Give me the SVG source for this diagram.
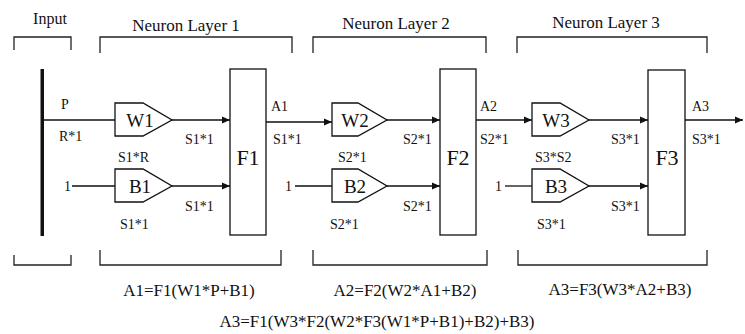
<svg xmlns="http://www.w3.org/2000/svg" width="745" height="334" viewBox="0 0 745 334">
<style>
text{font-family:"Liberation Serif","DejaVu Serif",serif;fill:#111}
.lbl{font-size:14px}
.ttl{font-size:17px;text-anchor:middle}
.eq{font-size:17px;text-anchor:middle}
.fn{font-size:22px;text-anchor:middle}
.nm{font-size:19px;text-anchor:middle}
.blk{fill:#fff;stroke:#111;stroke-width:1.3}
.ln{fill:none;stroke:#111;stroke-width:1.3}
.br{fill:none;stroke:#222;stroke-width:1.3}
</style>
<defs>
<marker id="ah" markerWidth="9" markerHeight="8" refX="8" refY="4" orient="auto" markerUnits="userSpaceOnUse">
<path d="M0,0.5 L8,4 L0,7.5 z" fill="#111"/>
</marker>
</defs>
<rect width="745" height="334" fill="#fff"/>
<g id="brackets">
<path class="br" d="M14,50 V37 H71 V50"/>
<path class="br" d="M100,53 V37 H292 V53"/>
<path class="br" d="M313,53 V37 H486 V53"/>
<path class="br" d="M517,53 V37 H707 V53"/>
<path class="br" d="M14,255 V265 H71 V255"/>
<path class="br" d="M100,250 V265 H281 V250"/>
<path class="br" d="M313,250 V265 H487 V250"/>
<path class="br" d="M518,250 V265 H707 V250"/>
</g>
<g id="titles">
<text class="ttl" style="font-size:16px" x="50" y="24">Input</text>
<text class="ttl" x="186" y="31">Neuron  Layer 1</text>
<text class="ttl" x="396" y="29">Neuron  Layer 2</text>
<text class="ttl" x="606" y="28">Neuron  Layer 3</text>
</g>
<g id="connectors">
<path class="ln" d="M43,120 H115"/>
<path class="ln" d="M172,120 H230" marker-end="url(#ah)"/>
<path class="ln" d="M72,186 H115"/>
<path class="ln" d="M172,186 H230" marker-end="url(#ah)"/>
<path class="ln" d="M266,122 H332" marker-end="url(#ah)"/>
<path class="ln" d="M387,120 H440" marker-end="url(#ah)"/>
<path class="ln" d="M295,186 H332"/>
<path class="ln" d="M387,186 H440" marker-end="url(#ah)"/>
<path class="ln" d="M476,120 H532" marker-end="url(#ah)"/>
<path class="ln" d="M589,120 H648" marker-end="url(#ah)"/>
<path class="ln" d="M505,186 H532"/>
<path class="ln" d="M589,186 H648" marker-end="url(#ah)"/>
<path class="ln" d="M685,120 H743" marker-end="url(#ah)"/>
</g>
<g id="input">
<rect x="40.5" y="69" width="3.5" height="167" fill="#111"/>
<text class="lbl" x="61" y="109">P</text>
<text class="lbl" x="59" y="141">R*1</text>
</g>
<g id="W1">
<path class="blk" d="M115,103 H143 L172,120 L143,136 H115 Z"/>
<text class="nm" x="140" y="127">W1</text>
<text class="lbl" x="118" y="162">S1*R</text>
<text class="lbl" x="185" y="144">S1*1</text>
</g>
<g id="B1">
<path class="blk" d="M115,169 H143 L172,186 L143,202 H115 Z"/>
<text class="nm" x="140" y="193">B1</text>
<text class="lbl" x="64" y="191">1</text>
<text class="lbl" x="120" y="229">S1*1</text>
<text class="lbl" x="185" y="211">S1*1</text>
</g>
<g id="F1">
<rect class="blk" x="230" y="69" width="36" height="166"/>
<text class="fn" x="248" y="165">F1</text>
<text class="lbl" x="271" y="111">A1</text>
<text class="lbl" x="273" y="144">S1*1</text>
</g>
<g id="W2">
<path class="blk" d="M332,103 H358 L387,120 L358,136 H332 Z"/>
<text class="nm" x="355" y="127">W2</text>
<text class="lbl" x="338" y="162">S2*1</text>
<text class="lbl" x="403" y="144">S2*1</text>
</g>
<g id="B2">
<path class="blk" d="M332,169 H358 L387,186 L358,202 H332 Z"/>
<text class="nm" x="355" y="193">B2</text>
<text class="lbl" x="285" y="191">1</text>
<text class="lbl" x="330" y="229">S2*1</text>
<text class="lbl" x="403" y="211">S2*1</text>
</g>
<g id="F2">
<rect class="blk" x="440" y="69" width="36" height="166"/>
<text class="fn" x="458" y="165">F2</text>
<text class="lbl" x="480" y="111">A2</text>
<text class="lbl" x="480" y="144">S2*1</text>
</g>
<g id="W3">
<path class="blk" d="M532,103 H560 L589,120 L560,136 H532 Z"/>
<text class="nm" x="556" y="127">W3</text>
<text class="lbl" x="535" y="162">S3*S2</text>
<text class="lbl" x="611" y="144">S3*1</text>
</g>
<g id="B3">
<path class="blk" d="M532,169 H560 L589,186 L560,202 H532 Z"/>
<text class="nm" x="556" y="193">B3</text>
<text class="lbl" x="495" y="191">1</text>
<text class="lbl" x="537" y="229">S3*1</text>
<text class="lbl" x="611" y="211">S3*1</text>
</g>
<g id="F3">
<rect class="blk" x="648" y="70" width="37" height="165"/>
<text class="fn" x="667" y="165">F3</text>
<text class="lbl" x="692" y="111">A3</text>
<text class="lbl" x="692" y="144">S3*1</text>
</g>
<g id="equations">
<text class="eq" x="189" y="296">A1=F1(W1*P+B1)</text>
<text class="eq" x="405" y="296">A2=F2(W2*A1+B2)</text>
<text class="eq" x="620" y="295">A3=F3(W3*A2+B3)</text>
<text class="eq" x="377" y="327">A3=F1(W3*F2(W2*F3(W1*P+B1)+B2)+B3)</text>
</g>
</svg>
